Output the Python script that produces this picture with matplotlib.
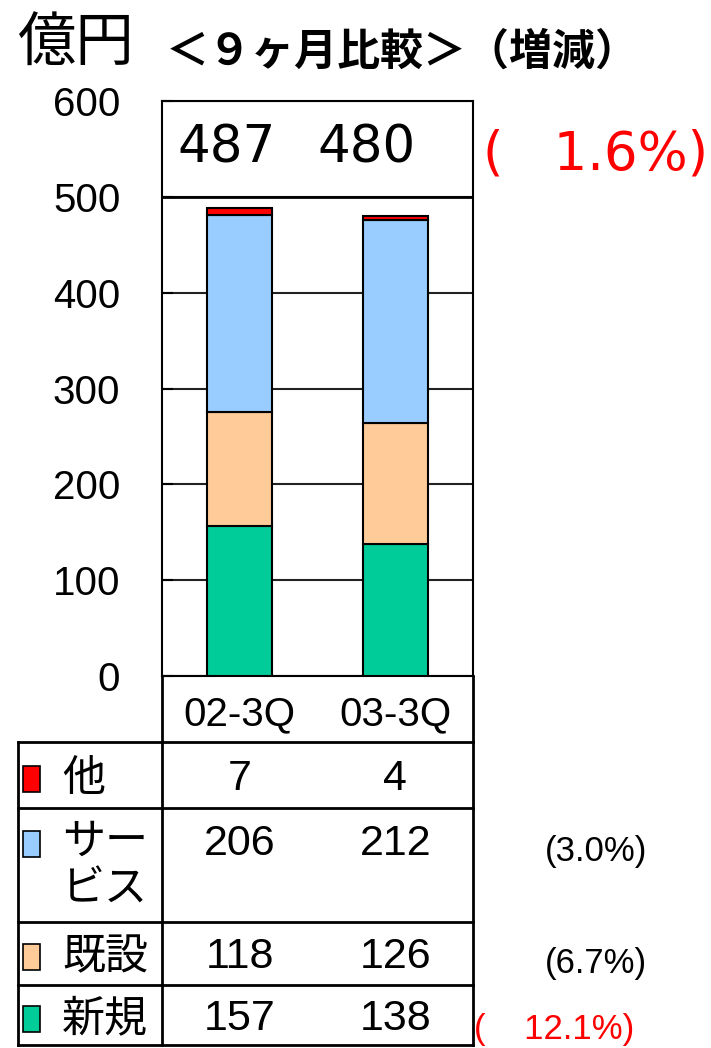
import matplotlib
matplotlib.use("Agg")
import matplotlib.pyplot as plt
from matplotlib.patches import Rectangle
from matplotlib.transforms import blended_transform_factory

plt.rcParams['font.family'] = ['Noto Sans CJK JP', 'DejaVu Sans']

# ---- data ----
periods = ["02-3Q", "03-3Q"]
segments = ["新規", "既設", "サービス", "他"]
seg_labels = {"他": "他", "サービス": "サー\nビス", "既設": "既設", "新規": "新規"}
shinki = [157, 138]
kisetsu = [118, 126]
service = [206, 212]
other = [7, 4]
totals = [487, 480]
total_change = "(   1.6%)"
seg_changes = {"サービス": "(3.0%)", "既設": "(6.7%)", "新規": "(    12.1%)"}
seg_change_colors = {"サービス": "black", "既設": "black", "新規": "red"}
colors = {"新規": "#00CC99", "既設": "#FFCC99", "サービス": "#99CCFF", "他": "#FF0000"}
yticks = [0, 100, 200, 300, 400, 500, 600]

W, H = 711, 1048
fig = plt.figure(figsize=(W / 100, H / 100), dpi=100)

ax = fig.add_axes([162 / W, (H - 676) / H, (473 - 162) / W, (676 - 101) / H])
ax.set_xlim(-0.5, 1.5)
ax.set_ylim(0, 600)
x = [0, 1]
values = {"新規": shinki, "既設": kisetsu, "サービス": service, "他": other}
bottom = [0, 0]
for seg in segments:
    v = values[seg]
    ax.bar(x, v, width=0.42, bottom=bottom, color=colors[seg],
           edgecolor="black", linewidth=1.5, zorder=3)
    bottom = [b + vv for b, vv in zip(bottom, v)]

ax.set_yticks(yticks)
ax.set_yticklabels([str(t) for t in yticks], fontsize=29, family=['Liberation Sans'])
ax.yaxis.grid(True, color="#222222", linewidth=1.5, zorder=0)
ax.tick_params(axis='y', direction='in', length=8, width=1.5, pad=30)
ax.tick_params(axis='x', length=0, pad=14)
ax.set_xticks(x)
ax.set_xticklabels(periods, fontsize=29, family=['Liberation Sans'])
for s in ax.spines.values():
    s.set_linewidth(1.5)
ax.axhline(500, color="black", linewidth=2, zorder=4)

for xi, t in zip([-0.088, 0.812], totals):
    ax.text(xi, 550, str(t), ha="center", va="center", fontsize=37,
            family=['DejaVu Sans'], zorder=5)

# overlay in pixel coordinates
ov = fig.add_axes([0, 0, 1, 1])
ov.set_xlim(0, W)
ov.set_ylim(H, 0)
ov.axis("off")

lw = 2
ov.plot([162, 162], [676, 742], color="black", lw=lw)
ov.plot([473, 473], [676, 742], color="black", lw=lw)
rows = [742, 808, 922, 985, 1045]
for yy in rows:
    ov.plot([18, 473], [yy, yy], color="black", lw=lw)
for xx in [18, 162, 473]:
    ov.plot([xx, xx], [rows[0], rows[-1]], color="black", lw=lw)

# title
ov.text(18, 44, "億円", fontsize=42, va="center", ha="left")
ov.text(166, 52, "＜９ヶ月比較＞（増減）", fontsize=31, va="center", ha="left",
        weight="bold")

ov.text(483, 155, total_change, fontsize=38, color="red", va="center", ha="left",
        family=['DejaVu Sans'])

trans = blended_transform_factory(ax.transData, ov.transData)
table_order = ["他", "サービス", "既設", "新規"]
row_text_y = {"他": 779, "サービス": 844, "既設": 957, "新規": 1019}
for i, seg in enumerate(table_order):
    ov.add_patch(Rectangle((23, row_text_y[seg] - 13), 17, 26, facecolor=colors[seg],
                           edgecolor="black", lw=1.2))
    lab = seg_labels[seg]
    if "\n" in lab:
        ov.text(62, row_text_y[seg] - 24, lab, fontsize=31, va="top", ha="left",
                linespacing=1.1)
    else:
        ov.text(62, row_text_y[seg], lab, fontsize=31, va="center", ha="left")
    for xi, v in zip(x, values[seg]):
        ov.text(xi, row_text_y[seg], str(v), transform=trans, fontsize=31,
                va="center", ha="center", family=['Liberation Sans'])
    if seg in seg_changes:
        yy = {"サービス": 852, "既設": 963, "新規": 1029}[seg]
        if seg == "新規":
            ov.text(474, yy, seg_changes[seg], fontsize=25, color=seg_change_colors[seg],
                    va="center", ha="left", family=['Liberation Sans'])
        else:
            ov.text(596, yy, seg_changes[seg], fontsize=25, color=seg_change_colors[seg],
                    va="center", ha="center", family=['Liberation Sans'])

fig.savefig("out.png", dpi=100)
